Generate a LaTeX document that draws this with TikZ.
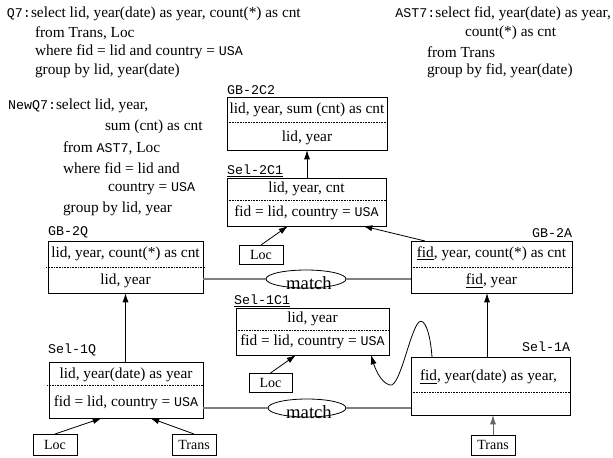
\documentclass[tikz,border=0pt]{standalone}
\usepackage{fontspec}
\setmainfont{Liberation Serif}
\newfontfamily\monofont{Liberation Mono}
\newcommand{\mono}[1]{{\monofont\fontsize{10}{12}\selectfont #1}}
\usetikzlibrary{arrows.meta,calc,shapes.geometric}

\begin{document}
\begin{tikzpicture}[x=0.75pt,y=-0.75pt,
  every node/.style={font=\fontsize{11.5}{13}\selectfont, inner sep=0pt, outer sep=0pt},
  qline/.style={anchor=west},
  opbox/.style 2 args={draw, line width=0.7pt, minimum width=#1*0.75pt,
    minimum height=#2*0.75pt, anchor=north west},
  relbox/.style 2 args={draw, line width=0.6pt, minimum width=#1*0.75pt,
    minimum height=#2*0.75pt, anchor=north west, font=\fontsize{10.5}{12}\selectfont},
  oplabel/.style={anchor=south west, font=\monofont\fontsize{10}{12}\selectfont},
  sep/.style={line width=0.5pt, dash pattern=on 0.7pt off 0.5pt},
  arr/.style={-{Latex[length=7pt,width=4.5pt]}, line width=0.6pt},
  matchel/.style={ellipse, draw, line width=0.6pt, minimum width=#1*0.75pt, minimum height=18*0.75pt},
  matchtxt/.style={font=\fontsize{14}{16}\selectfont},
  link/.style={line width=0.8pt, gray}
]
\useasboundingbox (0,0) rectangle (613,457);

% ---- query texts ----
\node[qline] (q7a) at (7,14) {\mono{Q7:}select lid, year(date) as year, count(*) as cnt};
\node[qline] (q7b) at (35,33) {from Trans, Loc};
\node[qline] (q7c) at (35,52) {where fid = lid and country = \mono{USA}};
\node[qline] (q7d) at (35,71) {group by lid, year(date)};

\node[anchor=east] (asta) at (611,14) {\mono{AST7:}select fid, year(date) as year,};
\node[qline] (astb) at (465,33) {count(*) as cnt};
\node[qline] (astc) at (427,52) {from Trans};
\node[qline] (astd) at (427,71) {group by fid, year(date)};

\node[qline] (nqa) at (8,106) {\mono{NewQ7:}select lid, year,};
\node[qline] (nqb) at (105,127) {sum (cnt) as cnt};
\node[qline] (nqc) at (63,148) {from \mono{AST7}, Loc};
\node[qline] (nqd) at (63,168) {where fid = lid and};
\node[qline] (nqe) at (108,189) {country = \mono{USA}};
\node[qline] (nqf) at (63,209) {group by lid, year};

% ---- GB-2C2 ----
\node[opbox={160}{53}] (gb2c2) at (227,97) {};
\node[oplabel] (gb2c2l) at (227,95) {GB-2C2};
\draw[sep] (227,122) -- (387,122);
\node (gb2c2r1) at (307,110) {lid, year, sum (cnt) as cnt};
\node (gb2c2r2) at (307,138) {lid, year};

% ---- Sel-2C1 ----
\node[opbox={159}{48}] (sel2c1) at (227,178) {};
\node[oplabel] (sel2c1l) at (227,177) {\underline{Sel-2C1}};
\draw[sep] (227,200) -- (386,200);
\node (sel2c1r1) at (306.5,189) {lid, year, cnt};
\node (sel2c1r2) at (306.5,213) {fid = lid, country = \mono{USA}};

\node[relbox={44}{19}] (loc2) at (239,245) {Loc};

% ---- GB-2Q ----
\node[opbox={155}{52}] (gb2q) at (48,241) {};
\node[oplabel] (gb2ql) at (48,238) {GB-2Q};
\draw[sep] (46,267) -- (205,267);
\node (gb2qr1) at (125.5,254) {lid, year, count(*) as cnt};
\node (gb2qr2) at (125.5,281) {lid, year};

% ---- GB-2A ----
\node[opbox={161}{52}] (gb2a) at (411,241) {};
\node[oplabel, anchor=south east] (gb2al) at (572,238) {GB-2A};
\draw[sep] (411,267) -- (572,267);
\node (gb2ar1) at (491.5,254) {\underline{fid}, year, count(*) as cnt};
\node (gb2ar2) at (491.5,281) {\underline{fid}, year};

% ---- Sel-1C1 ----
\node[opbox={153}{47}] (sel1c1) at (236,308) {};
\node[oplabel] (sel1c1l) at (234,307) {\underline{Sel-1C1}};
\draw[sep] (236,330) -- (389,330);
\node (sel1c1r1) at (312.5,319) {lid, year};
\node (sel1c1r2) at (312.5,342) {fid = lid, country = \mono{USA}};

\node[relbox={43}{19}] (loc3) at (249,373) {Loc};

% ---- Sel-1A ----
\node[opbox={159}{58}] (sel1a) at (411,357) {};
\node[oplabel, anchor=south east] (sel1al) at (570,352) {Sel-1A};
\draw[sep] (411,392) -- (570,392);
\node[anchor=west] (sel1ar1) at (420,377) {\underline{fid}, year(date) as year,};

\node[relbox={44}{20}] (trans2) at (471,435) {Trans};

% ---- Sel-1Q ----
\node[opbox={154}{56}] (sel1q) at (49,362) {};
\node[oplabel] (sel1ql) at (48,356) {Sel-1Q};
\draw[sep] (47,385) -- (203,385);
\node (sel1qr1) at (126,375) {lid, year(date) as year};
\node (sel1qr2) at (126,403) {fid = lid, country = \mono{USA}};

\node[relbox={44}{21}] (loc1) at (33,434) {Loc};
\node[relbox={44}{21}] (trans1) at (172,434) {Trans};

% ---- match ellipses ----
\node[matchel=80] (m1) at (306,279) {};
\node[matchtxt] (m1t) at (309,283) {match};
\node[matchel=78] (m2) at (307,408) {};
\node[matchtxt] (m2t) at (309,412) {match};

\draw[link] (gb2q.east |- m1) -- (m1.west);
\draw[link] (m1.east) -- (gb2a.west |- m1);
\draw[link] (sel1q.east |- m2) -- (m2.west);
\draw[link] (m2.east) -- (sel1a.west |- m2);

% ---- data-flow arrows ----
\draw[arr] (sel2c1.north -| gb2c2.south) -- (gb2c2.south);
\draw[arr] (loc2.north) -- ($(sel2c1.south west)+(61,0)$);
\draw[arr] ($(gb2a.north west)+(14,0)$) -- ($(sel2c1.south west)+(136,0)$);
\draw[arr] (sel1q.north -| gb2q.south) -- (gb2q.south);
\draw[arr] ($(sel1a.north west)+(76,0)$) -- ($(gb2a.south west)+(76,0)$);
\draw[arr, gray!80!black] (trans2.north) -- (trans2.north |- sel1a.south);
\draw[arr] (loc3.north) -- ($(sel1c1.south west)+(60,0)$);
\draw[arr] (loc1.north) -- ($(sel1q.south west)+(53,0)$);
\draw[arr] (trans1.north) -- ($(sel1q.south west)+(101,0)$);

% rewrite path from Sel-1A back into Sel-1C1
\coordinate (wstart) at ($(sel1a.north west)+(21,0)$);
\coordinate (wend) at ($(sel1c1.south east)+(-18,0)$);
\draw[arr] (wstart) .. controls (430,330) and (424,318) .. (419,322)
  .. controls (410,330) and (400,388) .. (390,385)
  .. controls (380,383) and (374,365) .. (wend);
\end{tikzpicture}
\end{document}
